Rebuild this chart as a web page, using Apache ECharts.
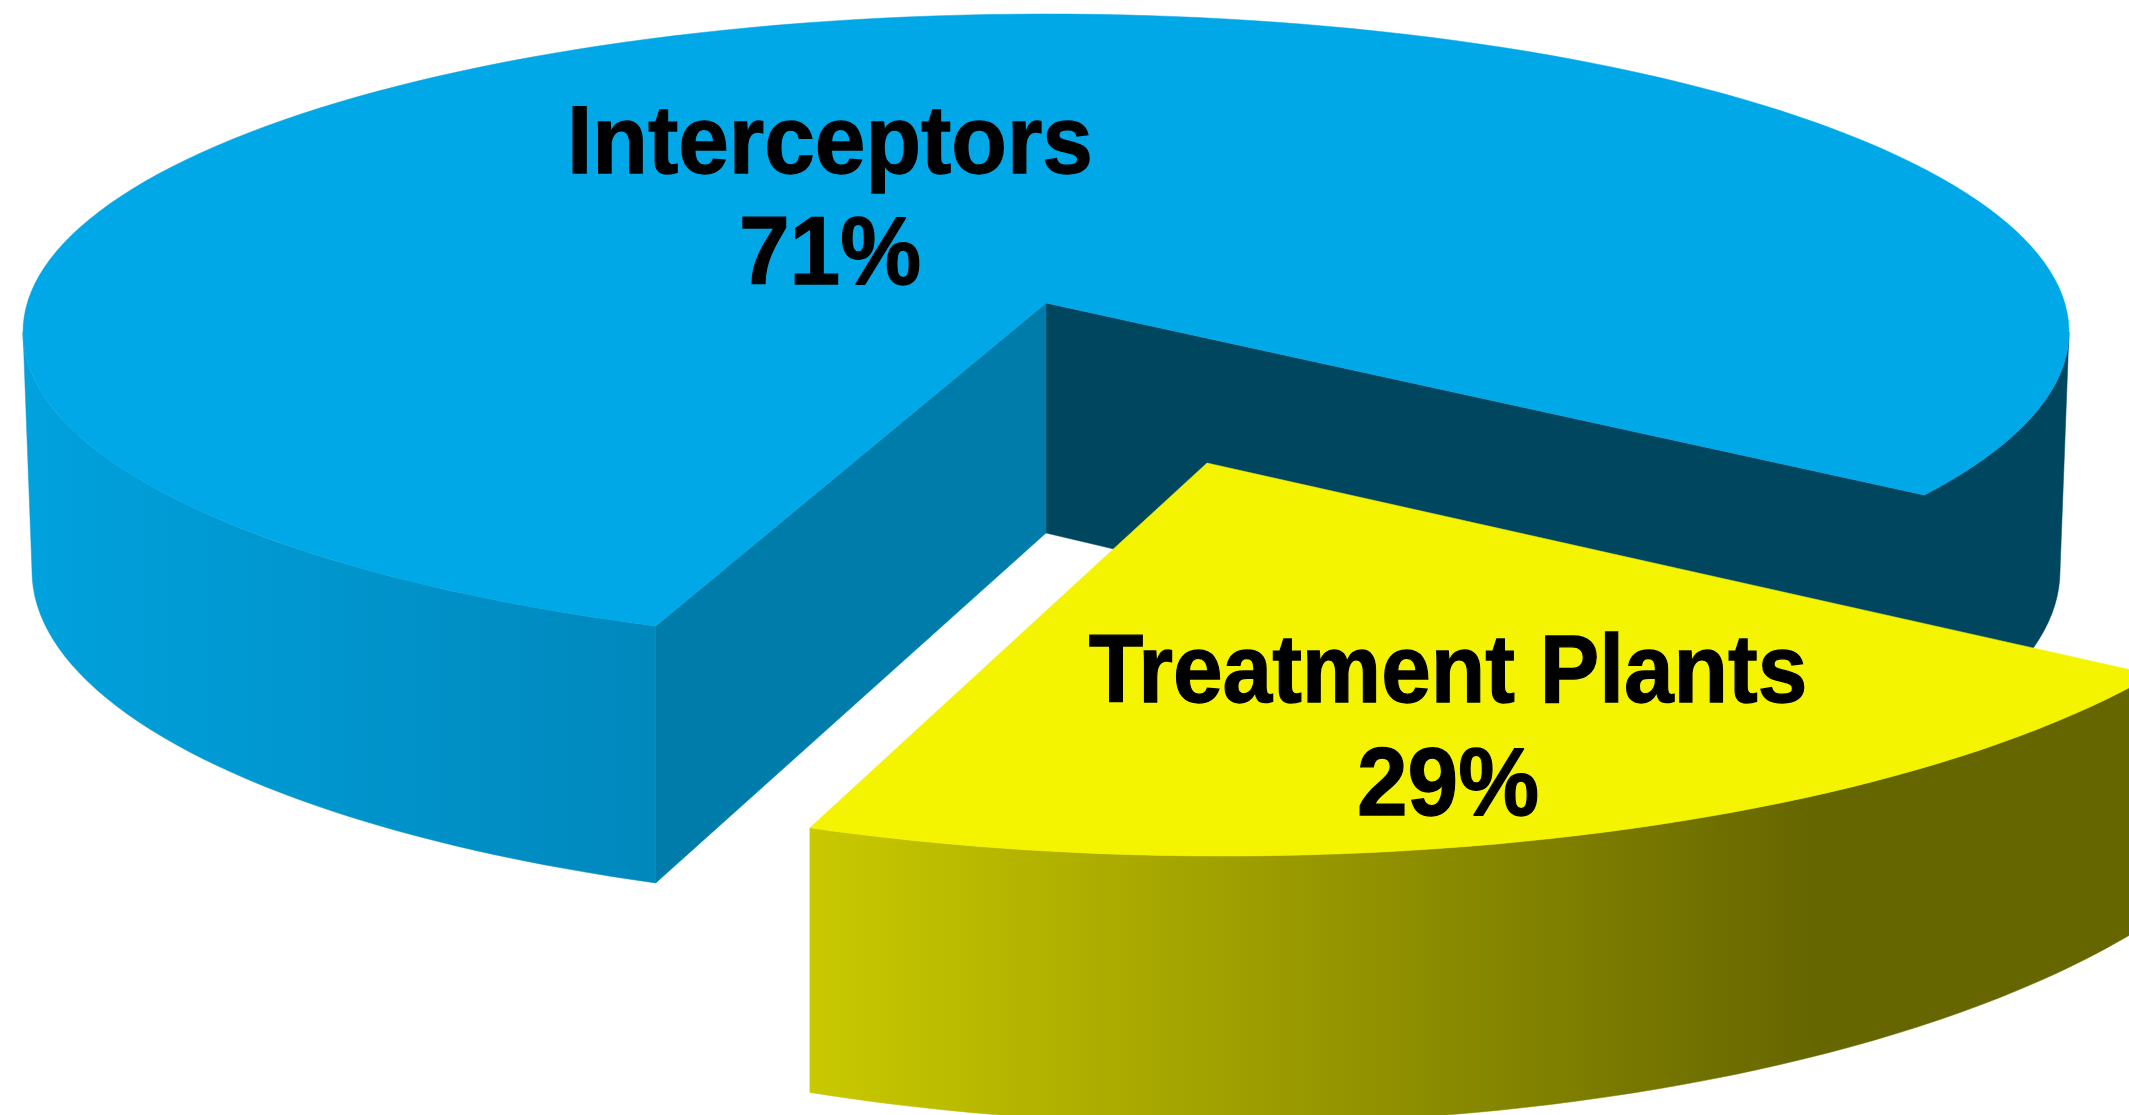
<!DOCTYPE html>
<html>
<head>
<meta charset="utf-8">
<style>html,body{margin:0;padding:0;background:#fff;overflow:hidden}#chart{width:2129px;height:1115px;filter:blur(0.6px)}</style>
<script src="https://cdn.jsdelivr.net/npm/echarts@6/dist/echarts.min.js"></script>
</head>
<body>
<div id="chart"></div>
<script>
// ---- data ----
const categories = ['Interceptors', 'Treatment Plants'];
const shares = [71, 29];

// ---- view of the tilted pie ----
const FIRST_ANGLE = -15.4;   // true angle where the first slice starts
const FORESHORTEN = 0.745;   // perspective squeeze of the rim around the near side
const bodies = [
  { hub:[1046,303], hubLow:[1046,533],
    top:{cx:1046,cy:332,rx:1023,ry:318}, low:{cx:1046,cy:571,rx:1014,ry:338} },
  { hub:[1207,463], hubLow:[1207,700],
    top:{cx:1223,cy:484,rx:1083,ry:372}, low:{cx:1223,cy:707,rx:1083,ry:417} }
];
const labelPlace = [
  { x:830, name:176, value:287, stretchX:1 },
  { x:1448, name:705, value:818, stretchX:0.98 }
];
const FONT_SIZE = 91;

const rad = d => d * Math.PI / 180;
function warp(alpha){
  const d = alpha + 90, n = Math.round(d / 360), d0 = d - 360 * n;
  return -90 + 360 * n + 2 * Math.atan(FORESHORTEN * Math.tan(rad(d0) / 2)) * 180 / Math.PI;
}
const rimPt = (e, t) => [e.cx + e.rx * Math.cos(rad(t)), e.cy - e.ry * Math.sin(rad(t))];
function arc(e, a, b){
  const out = [], n = Math.max(2, Math.ceil(Math.abs(b - a) / 1.5));
  for (let i = 0; i <= n; i++) out.push(rimPt(e, a + (b - a) * i / n));
  return out;
}
// Point on the lower rim straight below a point of the upper rim.
function below(p, low, t){
  const c = Math.max(-1, Math.min(1, (p[0] - low.cx) / low.rx));
  const s = Math.sqrt(1 - c * c) * (Math.sin(rad(t)) < 0 ? 1 : -1);
  return [p[0], low.cy + low.ry * s];
}
// Outer wall between two rim angles; snapStart / snapEnd make that end's edge vertical.
const wall = (top, low, a, b, snapStart, snapEnd) => {
  const upper = arc(top, a, b), lower = arc(low, a, b);
  if (snapStart) lower[0] = below(upper[0], low, a);
  if (snapEnd) lower[lower.length - 1] = below(upper[upper.length - 1], low, b);
  return upper.concat(lower.reverse());
};
const grad = (x0, x1, stops) => new echarts.graphic.LinearGradient(x0, 0, x1, 0, stops, true);
const poly = (points, fill) => ({ type:'polygon', shape:{ points }, style:{ fill, stroke:fill, lineWidth:0.5 } });

function sliceAngles(i){
  const total = shares.reduce((a, b) => a + b, 0);
  let a = FIRST_ANGLE;
  for (let k = 0; k < i; k++) a += 360 * shares[k] / total;
  return [a, a + 360 * shares[i] / total];
}
function label(text, x, y, sx, sy){
  return { type:'text', x, y, scaleX:sx, scaleY:sy, silent:true, z2:10,
    style:{ x:0, y:0, text, fill:'#000', stroke:'#000', lineWidth:1.2, align:'center', verticalAlign:'bottom',
            font:'bold ' + FONT_SIZE + 'px "Liberation Sans", Arial, sans-serif' } };
}

function renderItem(params, api){
  const i = params.dataIndex, b = bodies[i];
  const [a0, a1] = sliceAngles(i);
  const t0 = warp(a0), t1 = warp(a1);
  const kids = [];
  const topFace = [b.hub].concat(arc(b.top, t0, t1));
  if (i === 0) {
    const pL = rimPt(b.top, t1);
    kids.push(poly(wall(b.top, b.low, 180, t1, false, true),
      grad(32, 656, [{offset:0,color:'#00a1dd'},{offset:1,color:'#0088bc'}])));
    // far cut face and the outer wall behind it share one shade
    const outer = wall(b.top, b.low, t0, 0, true, false);
    kids.push(poly([b.hub].concat(outer, [b.hubLow]), '#00465f'));
    kids.push(poly([b.hub, pL, below(pL, b.low, t1), b.hubLow], '#007cab'));
  } else {
    kids.push(poly(wall(b.top, b.low, t0, t1, true, false),
      grad(811, 1812, [{offset:0,color:'#c9c900'},{offset:1,color:'#666600'}])));
  }
  kids.push(poly(topFace, i === 0 ? '#00a8e7' : '#f4f400'));
  const p = labelPlace[i];
  kids.push(label(categories[i], p.x, p.name + 18, p.stretchX, 1.05));
  kids.push(label(api.value(0) + '%', p.x, p.value + 18, 1, 1.05));
  return { type:'group', children:kids };
}

const chart = echarts.init(document.getElementById('chart'), null, { renderer:'canvas' });
chart.setOption({
  backgroundColor:'#ffffff',
  animation:false,
  series:[{
    type:'custom',
    coordinateSystem:'none',
    renderItem,
    clip:false,
    data:categories.map((name, i) => ({ name, value:[shares[i]] }))
  }]
});
</script>
</body>
</html>
